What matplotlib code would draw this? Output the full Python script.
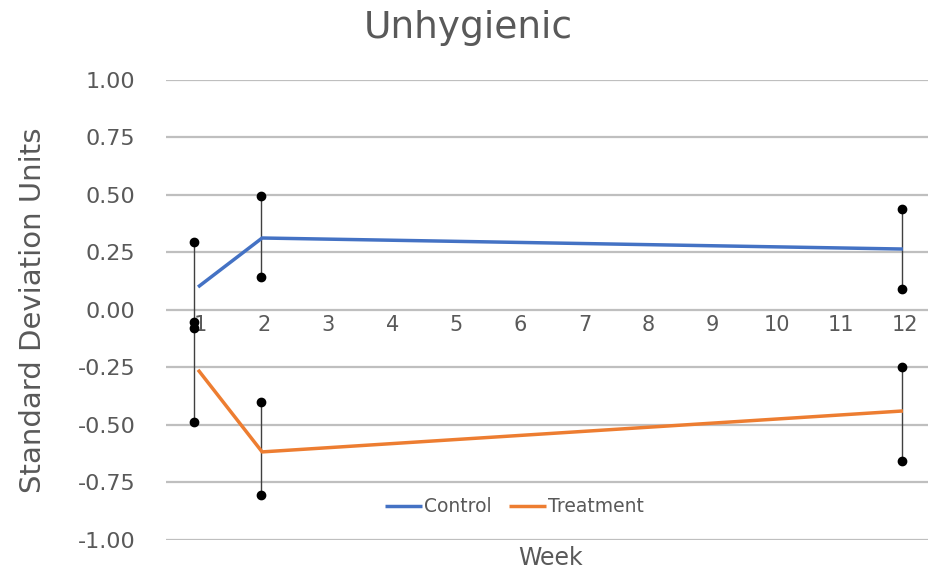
import matplotlib.pyplot as plt

plt.rcParams['font.family'] = ['DejaVu Sans']

weeks = [1, 2, 12]
control = [0.10, 0.313, 0.265]
control_hi = [0.296, 0.496, 0.439]
control_lo = [-0.052, 0.143, 0.091]
treatment = [-0.26, -0.617, -0.439]
treatment_hi = [-0.078, -0.40, -0.248]
treatment_lo = [-0.487, -0.804, -0.657]

week_ticks = list(range(1, 13))
y_ticks = [1.00, 0.75, 0.50, 0.25, 0.00, -0.25, -0.50, -0.75, -1.00]

text_col = '#595959'
W, H = 929, 573

fig = plt.figure(figsize=(9.29, 5.73), dpi=100)
ax = fig.add_axes([0.1787, 0.0576, 0.8277, 0.8028])

# error bars: thin vertical line with round dots at both ends
bars = list(zip(weeks, control_lo, control_hi)) + list(zip(weeks, treatment_lo, treatment_hi))
for x, lo, hi in bars:
    xb = x - 0.06 if x == 1 else x - 0.02
    ax.plot([xb, xb], [lo, hi], color='#404040', lw=1.0, zorder=3)
    ax.plot([xb, xb], [lo, hi], 'o', color='black', ms=6, zorder=4)

ax.plot(weeks, control, color='#4472C4', lw=2.5, label='Control', zorder=5,
        solid_capstyle='butt')
ax.plot(weeks, treatment, color='#ED7D31', lw=2.5, label='Treatment', zorder=5,
        solid_capstyle='butt')

ax.set_xlim(0.5, 12.5)
ax.set_ylim(-1.0, 1.0)
ax.set_yticks(y_ticks)
ax.set_yticklabels(['{:.2f}'.format(v) for v in y_ticks])
ax.yaxis.grid(True, color='#BFBFBF', lw=1.6)
ax.set_axisbelow(True)
for s in ax.spines.values():
    s.set_visible(False)
ax.tick_params(axis='y', length=0, pad=22, labelsize=16, labelcolor=text_col)

# week labels sit just below the zero line
ax.set_xticks([])
for w in week_ticks:
    ax.text(w + 0.03, -0.02, str(w), ha='center', va='top', fontsize=15, color=text_col)

fig.text(551 / W, 1 - 558 / H, 'Week', ha='center', va='center', fontsize=17, color=text_col)
fig.text(33 / W, 1 - 310 / H, 'Standard Deviation Units', ha='center', va='center',
         rotation=90, fontsize=21, color=text_col)
fig.text(468 / W, 1 - 28 / H, 'Unhygienic', ha='center', va='center', fontsize=27, color=text_col)

leg = ax.legend(loc='center', bbox_to_anchor=(0.453, 0.072), ncol=2, frameon=False,
                fontsize=13.5, handlelength=2.0, handletextpad=0.1, columnspacing=0.9)
for t in leg.get_texts():
    t.set_color(text_col)

plt.savefig('out.png')
